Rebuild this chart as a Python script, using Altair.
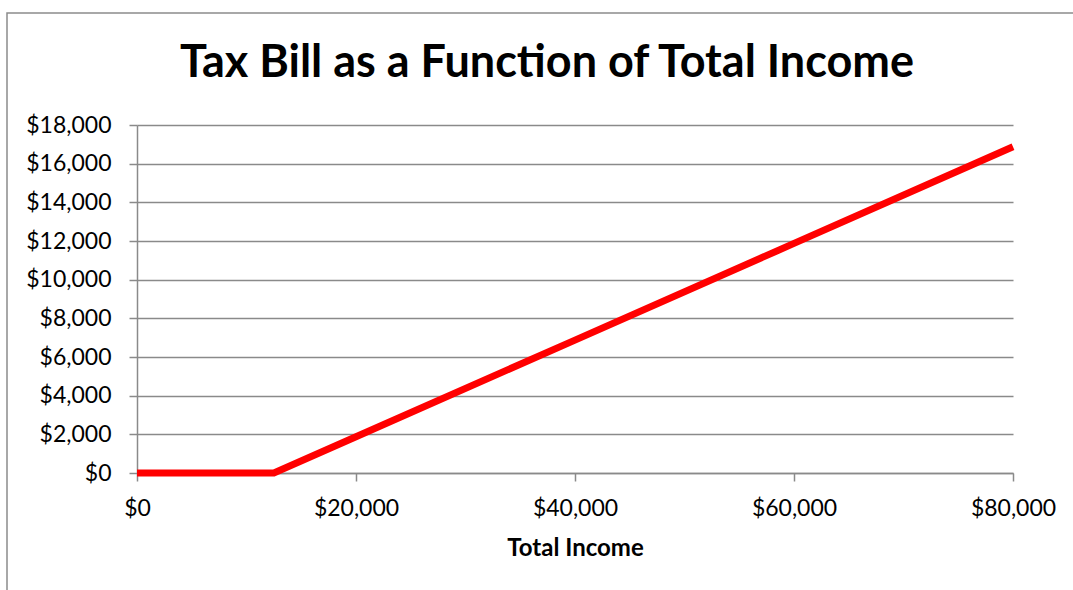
import altair as alt
import pandas as pd

income = [0, 12500, 20000, 40000, 60000, 80000]
tax = [0, 0, 1875, 6875, 11875, 16875]
y_ticks = [0, 2000, 4000, 6000, 8000, 10000, 12000, 14000, 16000, 18000]
x_ticks = [0, 20000, 40000, 60000, 80000]

df = pd.DataFrame({"income": income, "tax": tax})

FONT = "Lato"
GRID = "#8a8a8a"

frame = alt.Chart(pd.DataFrame({"a": [0]})).mark_rect(
    fill=None, stroke="#8c8c8c", strokeWidth=1.5
).encode(
    x=alt.value(-130), x2=alt.value(960), y=alt.value(-112), y2=alt.value(600)
)

line = alt.Chart(df).mark_line(color="#ff0000", strokeWidth=7, strokeJoin="miter").encode(
    x=alt.X("income:Q", scale=alt.Scale(domain=[0, 80000], nice=False),
            axis=alt.Axis(values=x_ticks, format="$,.0f", title="Total Income",
                          grid=False, domainColor=GRID, domainWidth=1.5,
                          tickColor=GRID, tickWidth=1.5, tickSize=8,
                          labelFont=FONT, labelFontSize=23, labelColor="#000",
                          labelFlush=False, labelOverlap=False,
                          labelPadding=16, titleFont=FONT, titleFontSize=24,
                          titleFontWeight="bold", titleColor="#000", titlePadding=16)),
    y=alt.Y("tax:Q", scale=alt.Scale(domain=[0, 18000], nice=False),
            axis=alt.Axis(values=y_ticks, format="$,.0f", title=None,
                          grid=True, gridColor=GRID, gridWidth=1.5,
                          domainColor=GRID, domainWidth=1.5,
                          tickColor=GRID, tickWidth=1.5, tickSize=8,
                          labelFont=FONT, labelFontSize=23, labelColor="#000",
                          labelFlush=False, labelOverlap=False,
                          labelPadding=18)),
)

chart = alt.layer(frame, line).properties(
    width=876, height=348,
    autosize=alt.AutoSizeParams(type="none"),
    padding={"left": 137, "top": 125, "right": 60, "bottom": 117},
    title=alt.TitleParams("Tax Bill as a Function of Total Income", font=FONT,
                          fontSize=45, fontWeight="bold", color="#000",
                          anchor="middle", dx=-28, offset=-110,
                          baseline="alphabetic"),
).configure_view(stroke=None)

chart.save("out.html", embed_options={"renderer": "svg", "actions": False})
